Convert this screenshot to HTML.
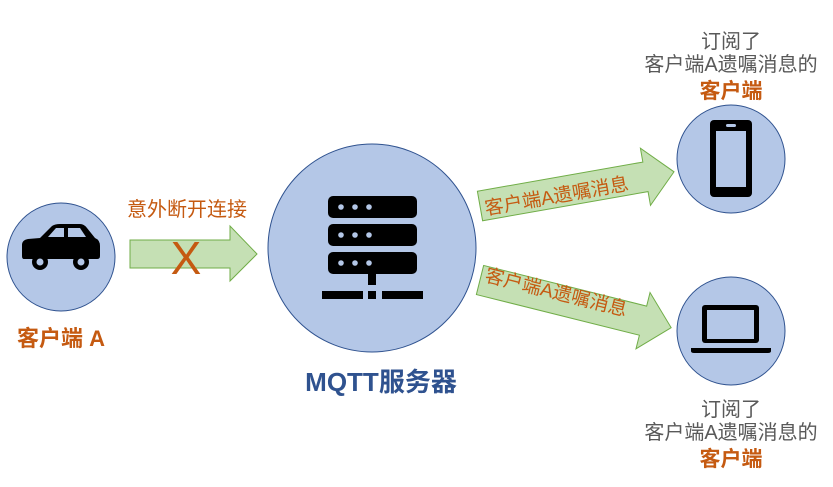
<!DOCTYPE html>
<html><head><meta charset="utf-8"><style>
body{margin:0;background:#fff;}
svg text{font-family:"Liberation Sans","Noto Sans CJK SC",sans-serif;}
</style></head><body>
<svg width="833" height="482" viewBox="0 0 833 482" xmlns="http://www.w3.org/2000/svg">
<g fill="#b4c7e7" stroke="#2f528f" stroke-width="1">
<circle cx="61" cy="257" r="54"/>
<circle cx="372" cy="248" r="104"/>
<circle cx="731" cy="159" r="54"/>
<circle cx="731" cy="331" r="54"/>
</g>
<!-- car -->
<g fill="#000">
<path d="M22 256 L22 245 Q22 240 28 239 L40 238 L52 226 Q55 224 60 224 L80 224 Q84 224 87 228 L95 238 Q100 240 100 246 L100 256 Q100 259 97 259 L24 259 Q22 259 22 256Z"/>
<circle cx="40" cy="262" r="8"/><circle cx="81" cy="262" r="8"/>
</g>
<g fill="#b4c7e7"><path d="M56 228 L64 228 L64 237 L48 237Z"/><path d="M68 228 L80 228 L86 237 L68 237Z"/>
<circle cx="40" cy="262" r="3.5"/><circle cx="81" cy="262" r="3.5"/></g>
<!-- server -->
<g fill="#000">
<rect x="328" y="196" width="89" height="22" rx="5"/>
<rect x="328" y="224" width="89" height="22" rx="5"/>
<rect x="328" y="252" width="89" height="22" rx="5"/>
<rect x="368" y="274" width="8" height="11"/>
<rect x="322" y="291" width="41" height="8"/>
<rect x="368" y="291" width="8" height="8"/>
<rect x="382" y="291" width="41" height="8"/>
</g>
<g fill="#b4c7e7">
<circle cx="341" cy="207" r="2.8"/><circle cx="355" cy="207" r="2.8"/><circle cx="369" cy="207" r="2.8"/>
<circle cx="341" cy="235" r="2.8"/><circle cx="355" cy="235" r="2.8"/><circle cx="369" cy="235" r="2.8"/>
<circle cx="341" cy="263" r="2.8"/><circle cx="355" cy="263" r="2.8"/><circle cx="369" cy="263" r="2.8"/>
</g>
<!-- phone -->
<rect x="710" y="120" width="42" height="77" rx="4" fill="#000"/>
<rect x="716" y="131" width="30" height="56" fill="#b4c7e7"/>
<rect x="726" y="124" width="10" height="3" rx="1.5" fill="#b4c7e7"/>
<!-- laptop -->
<rect x="702" y="305" width="57" height="38" rx="3" fill="#000"/>
<rect x="707" y="310" width="47" height="29" fill="#b4c7e7"/>
<path d="M691 348 L771 348 L771 351 Q771 353 768 353 L694 353 Q691 353 691 351Z" fill="#000"/>
<!-- arrows -->
<g fill="#c5e0b4" stroke="#70ad47" stroke-width="1">
<path d="M130 240 L230 240 L230 226 L257 254 L230 281 L230 268 L130 268Z"/>
<g transform="translate(480,206) rotate(-10)"><path d="M0 -15 L168 -15 L168 -29 L197 0 L168 29 L168 15 L0 15Z"/></g>
<g transform="translate(480,280) rotate(14)"><path d="M0 -15 L168 -15 L168 -29 L197 0 L168 29 L168 15 L0 15Z"/></g>
</g>
<text x="186" y="274" font-size="46" fill="#c55a11" text-anchor="middle" font-family="Liberation Sans">X</text>
<g fill="#c55a11" font-size="19">
<g transform="translate(486,215) rotate(-10)"><text x="0" y="0">客户端A遗嘱消息</text></g>
<g transform="translate(484,281) rotate(14)"><text x="0" y="0">客户端A遗嘱消息</text></g>
</g>
<text x="187" y="216" font-size="20" fill="#c55a11" text-anchor="middle">意外断开连接</text>
<text x="61" y="346" font-size="22" font-weight="bold" fill="#c55a11" text-anchor="middle">客户端 A</text>
<text x="381" y="391" font-size="26" font-weight="bold" fill="#2f528f" text-anchor="middle">MQTT服务器</text>
<g fill="#595959" font-size="20" text-anchor="middle">
<text x="731" y="48">订阅了</text>
<text x="731" y="71">客户端A遗嘱消息的</text>
<text x="731" y="416">订阅了</text>
<text x="731" y="439">客户端A遗嘱消息的</text>
</g>
<g fill="#c55a11" font-size="21" font-weight="bold" text-anchor="middle">
<text x="731" y="98">客户端</text>
<text x="731" y="466">客户端</text>
</g>
</svg>
</body></html>
